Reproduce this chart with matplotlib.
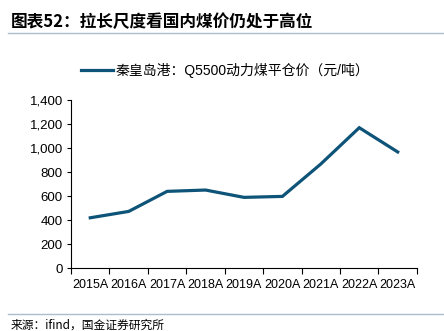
import matplotlib
matplotlib.use("Agg")
from matplotlib import pyplot as plt
from matplotlib.lines import Line2D
import numpy as np

plt.rcParams['font.family'] = ['Liberation Sans', 'Noto Sans CJK SC', 'DejaVu Sans']

years = ['2015A', '2016A', '2017A', '2018A', '2019A', '2020A', '2021A', '2022A', '2023A']
price = [419, 472, 639, 650, 589, 597, 867, 1169, 967]

line_color = '#0E5478'
rule_color = '#A9BFCF'

fig = plt.figure(figsize=(4.44, 3.31), dpi=100)
ax = fig.add_axes([0.160, 0.190, 0.779, 0.508])

x = np.arange(len(years))
ax.plot(x, price, color=line_color, linewidth=2.3, solid_joinstyle='miter',
        label='秦皇岛港：Q5500动力煤平仓价（元/吨）')

ax.set_xlim(-0.5, len(years) - 0.5)
ax.set_ylim(0, 1400)
ax.set_yticks(range(0, 1401, 200))
ax.set_yticklabels([f'{v:,}' for v in range(0, 1401, 200)])

ax.set_xticks(x)
ax.set_xticklabels(years)
ax.set_xticks(np.arange(-0.5, len(years)), minor=True)
ax.tick_params(axis='x', which='major', length=0, pad=8, labelsize=9)
ax.tick_params(axis='x', which='minor', length=4, direction='out', width=0.8)
ax.tick_params(axis='y', length=3, width=0.8, labelsize=9.5, pad=3)

for s in ['top', 'right']:
    ax.spines[s].set_visible(False)
for s in ['left', 'bottom']:
    ax.spines[s].set_linewidth(0.8)

# title and rules
fig.text(0.025, 0.935, '图表52：拉长尺度看国内煤价仍处于高位', fontsize=12,
         fontweight='bold', family=['Noto Sans CJK SC'], va='center', ha='left')
fig.add_artist(Line2D([0.018, 1.0], [0.900, 0.900], color=rule_color, linewidth=1.0))
fig.add_artist(Line2D([0.018, 1.0], [0.051, 0.051], color=rule_color, linewidth=1.0))

fig.legend(loc='center', bbox_to_anchor=(0.508, 0.788), frameon=False,
           handlelength=2.3, handletextpad=0.2,
           prop={'family': ['Liberation Sans', 'Noto Sans CJK SC'], 'size': 10})

fig.text(0.025, 0.017, '来源：ifind，国金证券研究所', fontsize=8.5,
         family=['Noto Sans CJK SC'], va='center', ha='left')

fig.savefig('out.png', dpi=100)
